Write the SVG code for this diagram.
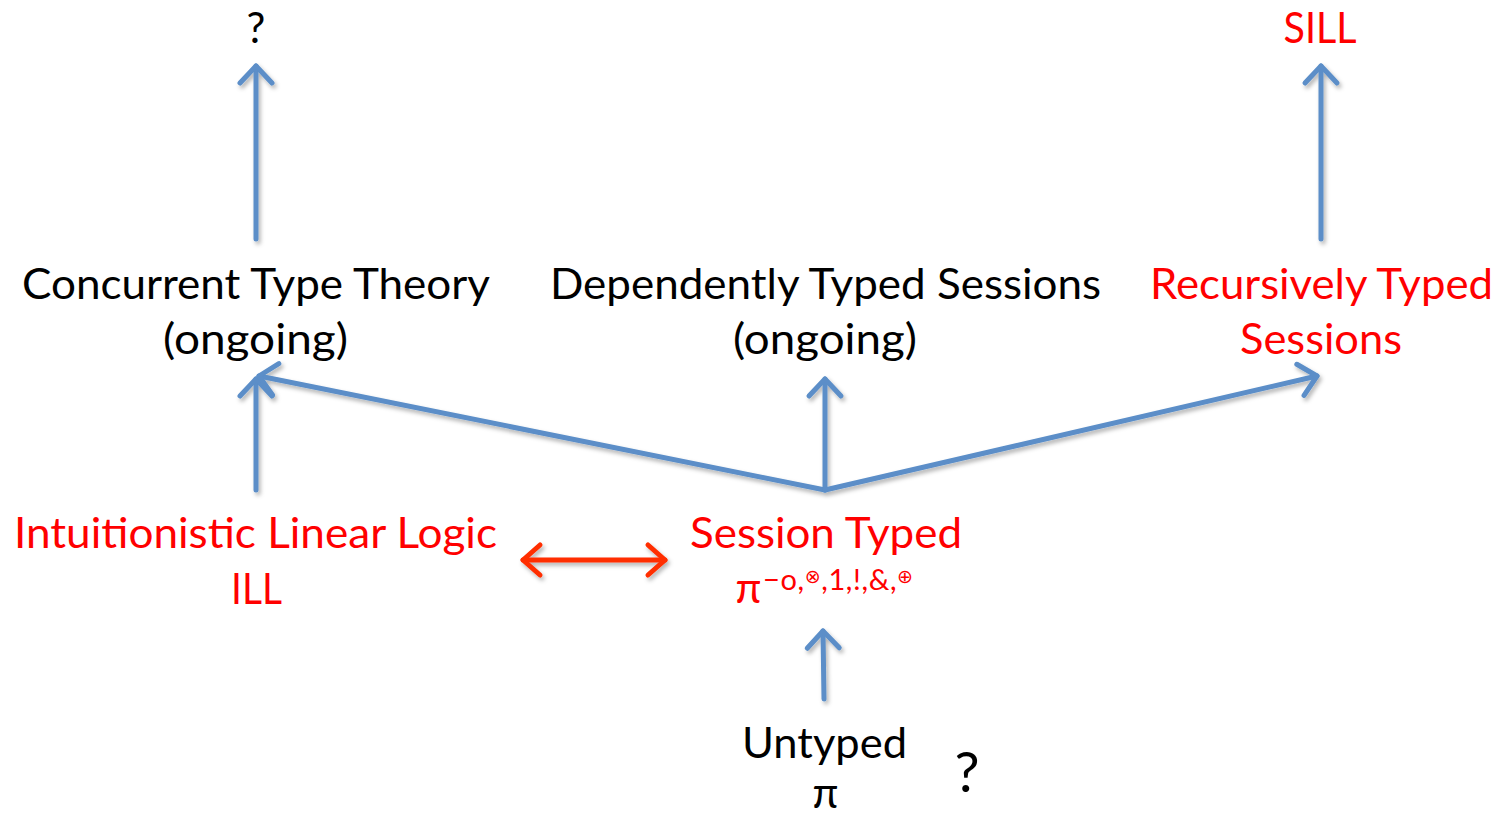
<svg xmlns="http://www.w3.org/2000/svg" width="1501" height="817" viewBox="0 0 1501 817">
  <style>
    .t { font-family: Lato, "Open Sans", "Liberation Sans", sans-serif; font-size: 42px; text-anchor: middle; }
    .blk { fill: #000000; }
    .red { fill: #ff0000; }
    .sup { font-family: Lato, "Open Sans", "DejaVu Sans", sans-serif; font-size: 29px; }
    .op { font-family: "DejaVu Sans", sans-serif; font-size: 19px; }
    .edge { fill: none; stroke: #5b8ec8; stroke-width: 5; stroke-linecap: round; }
    .edge-red { fill: none; stroke: #ff2e00; stroke-width: 5; stroke-linecap: round; }
  </style>
  <defs>
    <filter id="shadow" x="-20%" y="-20%" width="140%" height="140%">
      <feDropShadow dx="2" dy="3" stdDeviation="2" flood-color="#000" flood-opacity="0.3"/>
    </filter>
    <marker id="head" markerUnits="userSpaceOnUse" viewBox="-22 -22 26 44" refX="0" refY="0" markerWidth="26" markerHeight="44" orient="auto" overflow="visible">
      <path d="M-17,-16 L0,0 L-17,16" fill="none" stroke="#5b8ec8" stroke-width="5" stroke-linecap="round" stroke-linejoin="round"/>
    </marker>
    <marker id="head-red" markerUnits="userSpaceOnUse" viewBox="-22 -22 26 44" refX="0" refY="0" markerWidth="26" markerHeight="44" orient="auto-start-reverse" overflow="visible">
      <path d="M-17,-15 L0,0 L-17,15" fill="none" stroke="#ff2e00" stroke-width="5" stroke-linecap="round" stroke-linejoin="round"/>
    </marker>
  </defs>

  <rect width="1501" height="817" fill="#ffffff"/>

  <!-- connectors -->
  <g id="connectors" filter="url(#shadow)">
    <line class="edge" x1="256" y1="239" x2="256" y2="66" marker-end="url(#head)"/>
    <line class="edge" x1="1321" y1="239" x2="1321" y2="66" marker-end="url(#head)"/>
    <line class="edge" x1="256" y1="490" x2="256" y2="379" marker-end="url(#head)"/>
    <line class="edge" x1="825" y1="490" x2="259" y2="376" marker-end="url(#head)"/>
    <line class="edge" x1="825" y1="490" x2="825" y2="379" marker-end="url(#head)"/>
    <line class="edge" x1="825" y1="490" x2="1317" y2="376" marker-end="url(#head)"/>
    <line class="edge" x1="824" y1="699" x2="823" y2="631" marker-end="url(#head)"/>
    <line class="edge-red" x1="523" y1="560" x2="665" y2="560" marker-start="url(#head-red)" marker-end="url(#head-red)"/>
  </g>

  <!-- nodes -->
  <g id="node-unknown-top">
    <text class="t blk" x="256" y="43">?</text>
  </g>

  <g id="node-sill">
    <text class="t red" x="1320" y="43" textLength="73" lengthAdjust="spacingAndGlyphs">SILL</text>
  </g>

  <g id="node-ctt">
    <text class="t blk" x="256" y="299" textLength="468" lengthAdjust="spacingAndGlyphs">Concurrent Type Theory</text>
    <text class="t blk" x="255.5" y="354" textLength="185" lengthAdjust="spacingAndGlyphs">(ongoing)</text>
  </g>

  <g id="node-dts">
    <text class="t blk" x="825.5" y="299" textLength="551" lengthAdjust="spacingAndGlyphs">Dependently Typed Sessions</text>
    <text class="t blk" x="825" y="354" textLength="184" lengthAdjust="spacingAndGlyphs">(ongoing)</text>
  </g>

  <g id="node-rts">
    <text class="t red" x="1321.5" y="299" textLength="343" lengthAdjust="spacingAndGlyphs">Recursively Typed</text>
    <text class="t red" x="1321" y="354" textLength="162" lengthAdjust="spacingAndGlyphs">Sessions</text>
  </g>

  <g id="node-ill">
    <text class="t red" x="255.5" y="548" textLength="483" lengthAdjust="spacingAndGlyphs">Intuitionistic Linear Logic</text>
    <text class="t red" x="256.5" y="604" textLength="51" lengthAdjust="spacingAndGlyphs">ILL</text>
  </g>

  <g id="node-session-typed">
    <text class="t red" x="826" y="548" textLength="272" lengthAdjust="spacingAndGlyphs">Session Typed</text>
    <text class="t red" x="748.5" y="603">π</text>
    <text class="red sup" x="763" y="590" textLength="150" lengthAdjust="spacing">−o,<tspan class="op" dy="-7">⊗</tspan><tspan dy="7">,1,!,&amp;,</tspan><tspan class="op" dy="-7">⊕</tspan></text>
  </g>

  <g id="node-untyped">
    <text class="t blk" x="824.5" y="758" textLength="165" lengthAdjust="spacingAndGlyphs">Untyped</text>
    <text class="t blk" x="825.5" y="808">π</text>
  </g>

  <g id="node-unknown-bottom">
    <text class="t blk" x="967" y="792" style="font-size:56px">?</text>
  </g>
</svg>
